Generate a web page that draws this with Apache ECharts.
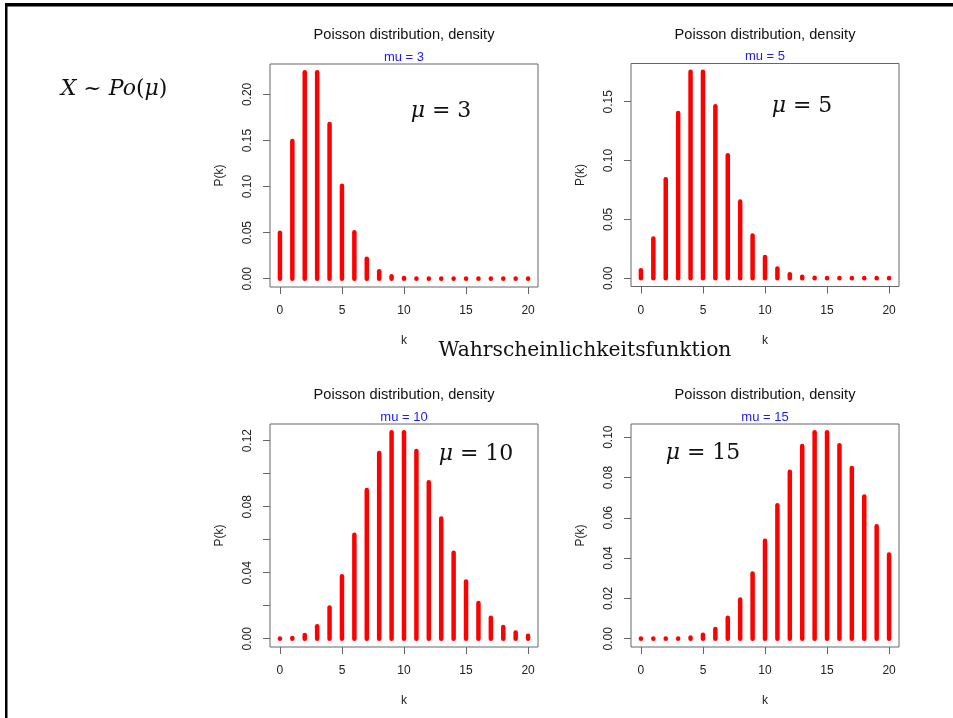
<!DOCTYPE html>
<html>
<head>
<meta charset="utf-8">
<script src="https://cdn.jsdelivr.net/npm/echarts@6/dist/echarts.min.js"></script>
<style>
html,body{margin:0;padding:0;background:#fff;}
#c{width:953px;height:718px;}
</style>
</head>
<body>
<div id="c"></div>
<script>
// ---- data ----
const kValues = [0,1,2,3,4,5,6,7,8,9,10,11,12,13,14,15,16,17,18,19,20];
const mu3 = [0.049787,0.149361,0.224042,0.224042,0.168031,0.100819,0.050409,0.021604,0.008102,0.002701,0.000810,0.000221,0.0000552,0.0000127,0.0000027,0.0000005,0.0000001,0,0,0,0];
const mu5 = [0.006738,0.033690,0.084224,0.140374,0.175467,0.175467,0.146223,0.104445,0.065278,0.036266,0.018133,0.008242,0.003434,0.001321,0.000472,0.000157,0.000049,0.0000145,0.000004,0.000001,0.0000003];
const mu10 = [0.0000454,0.000454,0.002270,0.007567,0.018917,0.037833,0.063055,0.090079,0.112599,0.125110,0.125110,0.113736,0.094780,0.072908,0.052077,0.034718,0.021699,0.012764,0.007091,0.003732,0.001866];
const mu15 = [0.0000003,0.0000046,0.0000344,0.000172,0.000645,0.001936,0.004839,0.010370,0.019444,0.032407,0.048611,0.066287,0.082859,0.095607,0.102436,0.102436,0.096034,0.084736,0.070613,0.055747,0.041810];
const muLabels = [3, 5, 10, 15];
const xTicks = [0,5,10,15,20];
const yTicks1 = [0,0.05,0.10,0.15,0.20];
const yTicks2 = [0,0.05,0.10,0.15];
const yTicks3 = [0,0.02,0.04,0.06,0.08,0.10,0.12];
const yLabels3 = [0,0.04,0.08,0.12];
const yTicks4 = [0,0.02,0.04,0.06,0.08,0.10];
const yLabels4 = [0,0.02,0.04,0.06,0.08,0.10];
const titleText = 'Poisson distribution, density';
const mainLabel = 'Wahrscheinlichkeitsfunktion';

const series = [mu3, mu5, mu10, mu15];
const yTickSets = [yTicks1, yTicks2, yTicks3, yTicks4];
const yLabelSets = [yTicks1, yTicks2, yLabels3, yLabels4];

// ---- layout ----
const grids = [
  {left:270, top:64, width:268, height:223},
  {left:631, top:63.5, width:268, height:223},
  {left:270, top:424, width:268, height:223},
  {left:631, top:424, width:268, height:223}
];
const SANS = '"Liberation Sans", Arial, sans-serif';
const SERIF = '"DejaVu Serif", serif';

const option = {
  animation:false,
  backgroundColor:'#fff',
  grid: grids.map(g => Object.assign({show:true, borderColor:'#666', borderWidth:1, backgroundColor:'transparent', containLabel:false}, g)),
  xAxis: grids.map((g,i) => ({
    type:'value', gridIndex:i, min:-0.8, max:20.8, position:'bottom',
    name:'k', nameLocation:'middle', nameGap:48,
    nameTextStyle:{fontFamily:SANS, fontSize:12, color:'#222'},
    axisLine:{show:false, onZero:false},
    axisTick:{show:true, inside:false, length:7, lineStyle:{color:'#666'}, customValues:xTicks},
    axisLabel:{show:true, margin:18, fontFamily:SANS, fontSize:12, color:'#222', customValues:xTicks},
    splitLine:{show:false}
  })),
  yAxis: grids.map((g,i) => {
    const mx = Math.max.apply(null, series[i]);
    return {
      type:'value', gridIndex:i, min:-0.04*mx, max:1.04*mx, position:'left',
      name:'P(k)', nameLocation:'middle', nameGap:44, nameRotate:90,
      nameTextStyle:{fontFamily:SANS, fontSize:12, color:'#222'},
      axisLine:{show:false, onZero:false},
      axisTick:{show:true, inside:false, length:7, lineStyle:{color:'#666'}, customValues:yTickSets[i]},
      axisLabel:{show:true, rotate:90, margin:16, fontFamily:SANS, fontSize:12, color:'#222',
        customValues:yLabelSets[i], formatter: v => Number(v).toFixed(2)},
      splitLine:{show:false}
    };
  }),
  series: series.map((arr,i) => ({
    type:'custom', xAxisIndex:i, yAxisIndex:i, clip:false,
    data: kValues.map((k,j) => [k, arr[j]]),
    renderItem: function(params, api){
      const top = api.coord([api.value(0), api.value(1)]);
      const base = api.coord([api.value(0), 0]);
      let y1 = top[1];
      if (Math.abs(base[1]-y1) < 0.3) y1 = base[1]-0.3;
      return {type:'line', shape:{x1:top[0], y1:y1, x2:base[0], y2:base[1]},
        style:{stroke:'#ff0000', lineWidth:4.5, lineCap:'round'}};
    }
  })),
  graphic: [
    // frame
    {type:'rect', shape:{x:5, y:3, width:948, height:3.5}, style:{fill:'#000'}},
    {type:'rect', shape:{x:5, y:3, width:2.5, height:715}, style:{fill:'#000'}},
    // titles
    ...grids.map((g,i) => ({type:'text', style:{text:titleText, x:g.left+g.width/2, y:g.top-29,
      align:'center', verticalAlign:'middle', fontFamily:SANS, fontSize:14.6, fill:'#111'}})),
    ...grids.map((g,i) => ({type:'text', style:{text:'mu = '+muLabels[i], x:g.left+g.width/2, y:g.top-7,
      align:'center', verticalAlign:'middle', fontFamily:SANS, fontSize:13, fill:'#1a1aff'}})),
    // mu annotations
    ...[[441,111],[802,106],[476,454],[703,453]].map((p,i) => ({type:'text', style:{
      text:'{i|μ} = '+muLabels[i], x:p[0], y:p[1], align:'center', verticalAlign:'middle',
      fontFamily:SERIF, fontSize:22, fill:'#111',
      rich:{i:{fontFamily:SERIF, fontStyle:'italic', fontSize:22, fill:'#111'}}}})),
    {type:'text', style:{text:'{i|X} ~ {i|Po}({i|μ})', x:114, y:89, align:'center', verticalAlign:'middle',
      fontFamily:SERIF, fontSize:22, fill:'#111',
      rich:{i:{fontFamily:SERIF, fontStyle:'italic', fontSize:22, fill:'#111'}}}},
    {type:'text', style:{text:mainLabel, x:585, y:351, align:'center', verticalAlign:'middle',
      fontFamily:SERIF, fontSize:20.3, fill:'#111'}}
  ]
};
const chart = echarts.init(document.getElementById('c'), null, {renderer:'canvas'});
chart.setOption(option);
</script>
</body>
</html>
